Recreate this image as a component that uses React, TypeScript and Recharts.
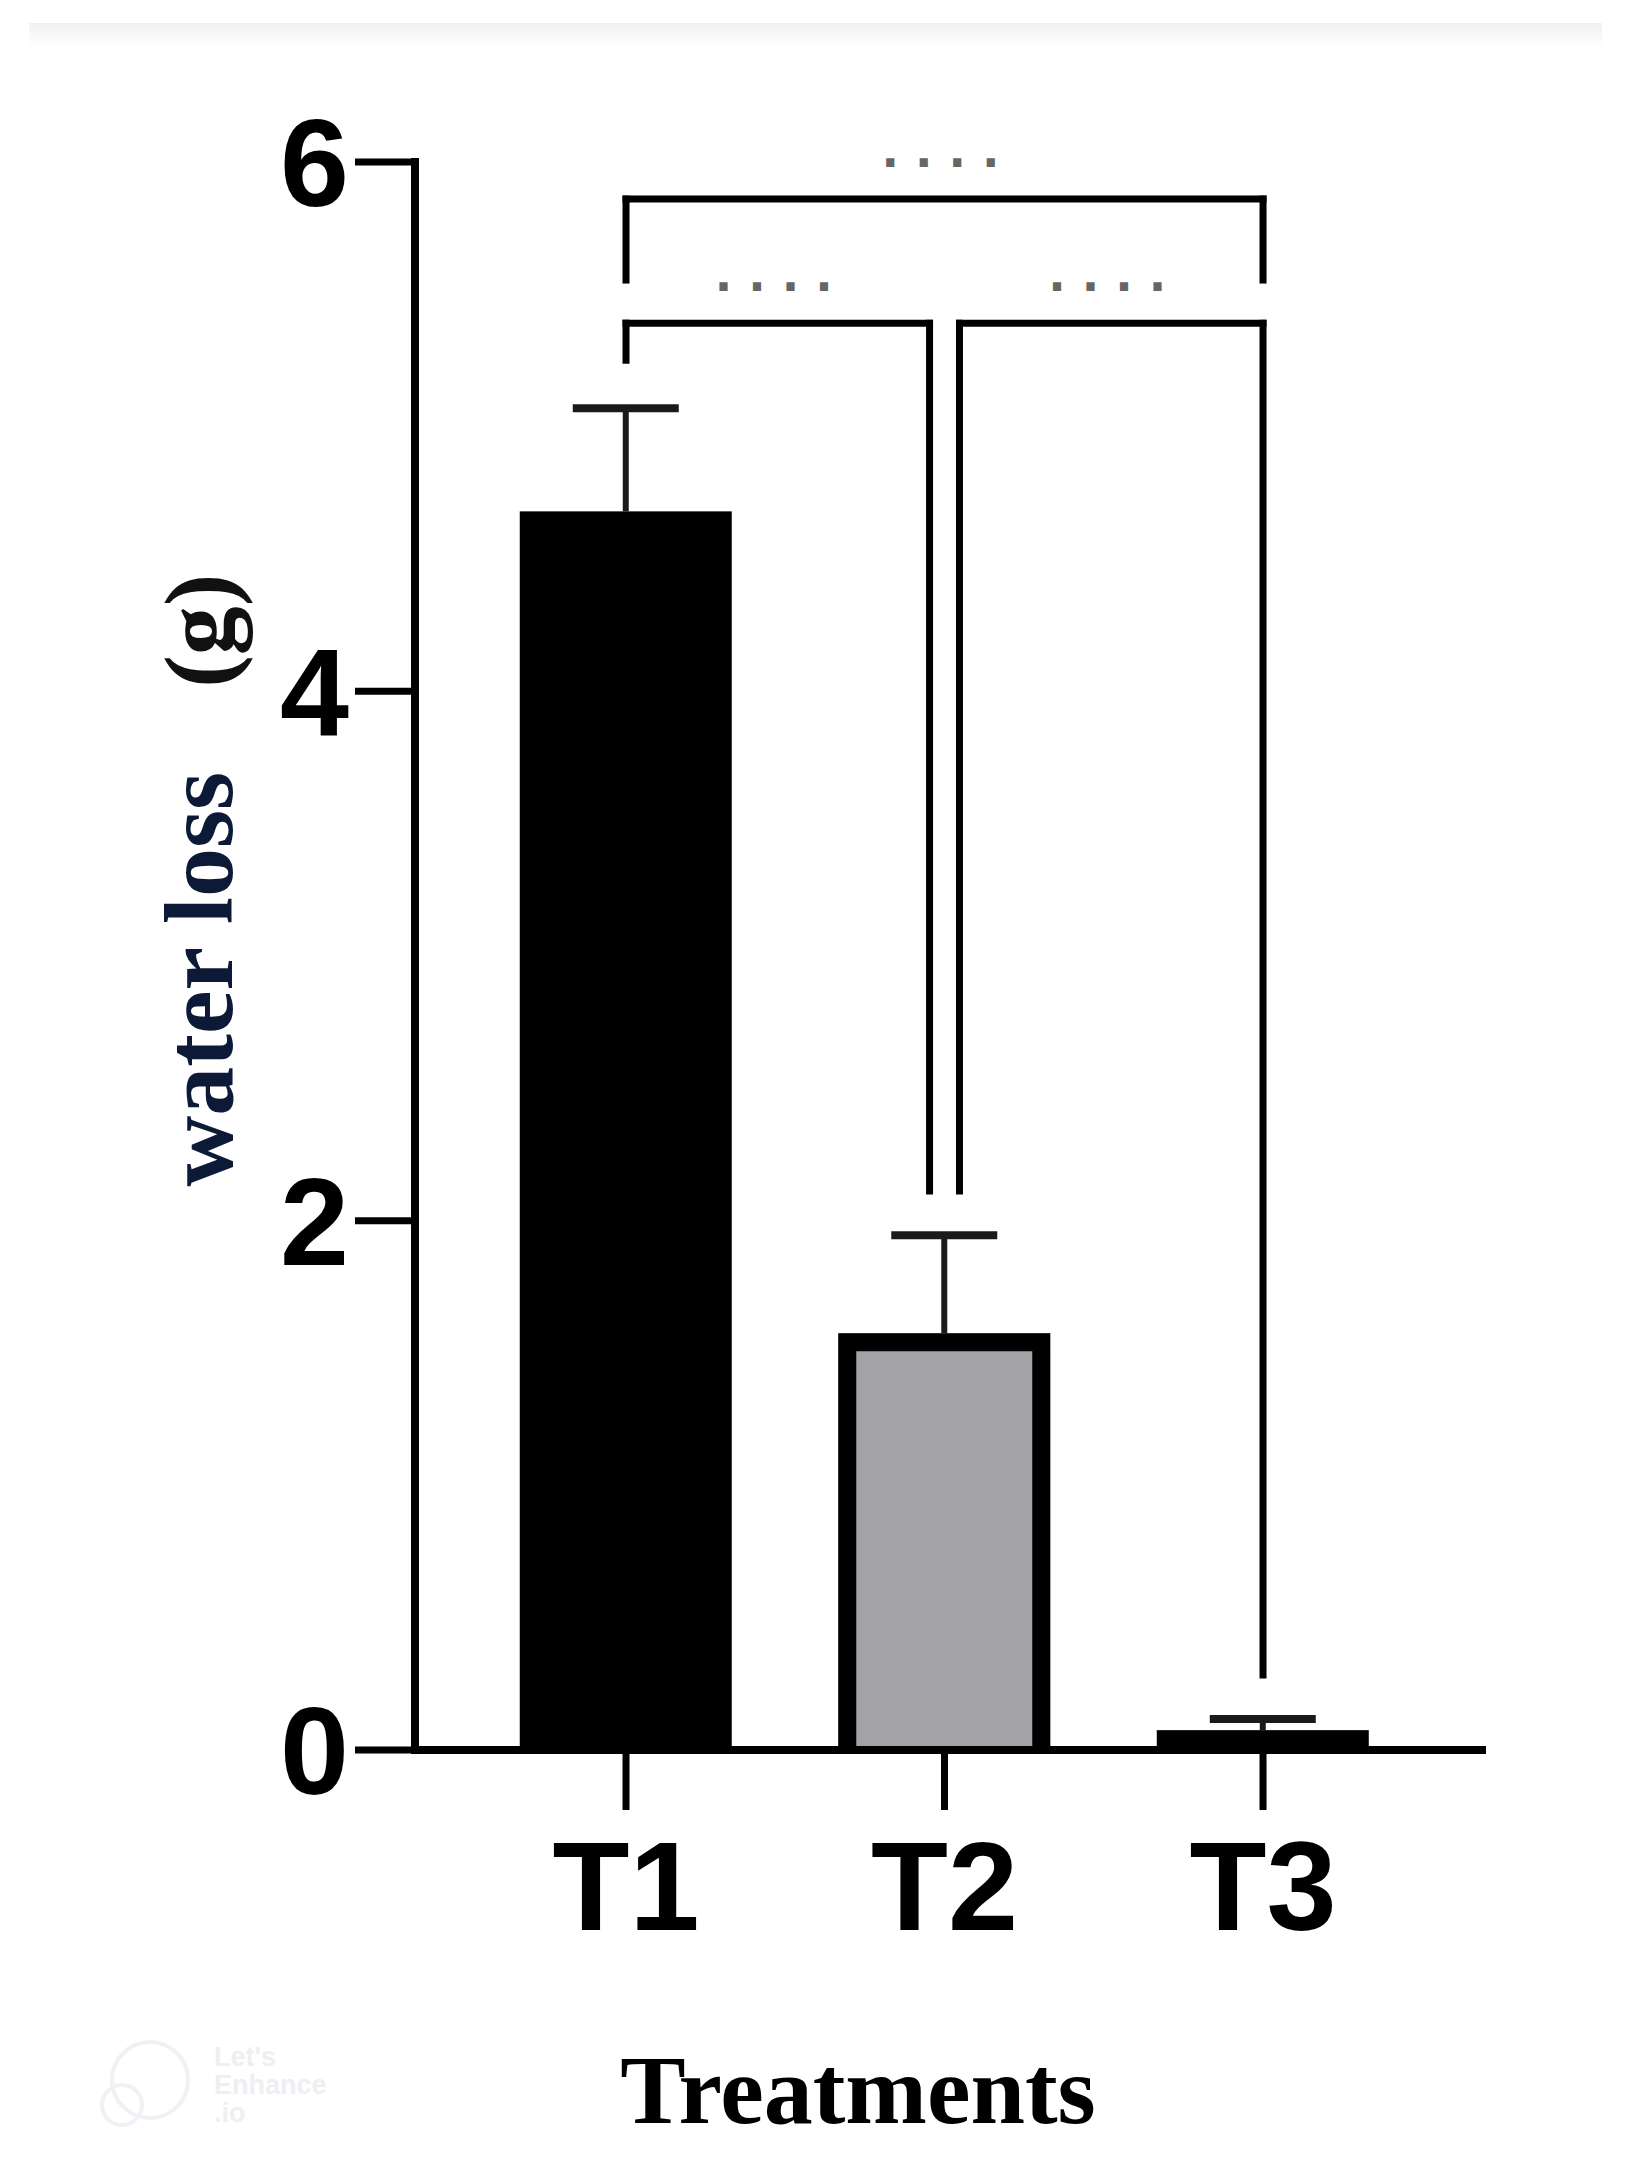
import React from "react";
import {
  Bar,
  BarChart,
  Cell,
  ReferenceLine,
  XAxis,
  YAxis,
} from "recharts";

// treatment positions on the numeric x axis and their labels
const TREATMENT_POS = [1, 2, 3];
const TREATMENT_LABELS = ["T1", "T2", "T3"];
// mean water loss (g) and upper SEM
const WATER_LOSS = [4.68, 1.575, 0.075];
const WATER_LOSS_ERR = [0.39, 0.37, 0.042];
const Y_TICKS = [0, 2, 4, 6];

// significance brackets: [x1, x2, y, left foot, right foot]
const BRACKETS: number[][] = [
  [1, 3, 5.86, 5.554, 5.554],
  [1, 1.953, 5.391, 5.251, 2.112],
  [2.047, 3, 5.391, 2.112, 0.283],
];

const BAR_FILLS = ["#000000", "#a3a3a7", "#000000"];
const BAR_OUTLINED = [false, true, false];

const data = TREATMENT_POS.map((x, i) => ({
  x,
  name: TREATMENT_LABELS[i],
  value: WATER_LOSS[i],
  err: WATER_LOSS_ERR[i],
}));

const SANS = "'Liberation Sans', Arial, sans-serif";
const SERIF = "'Liberation Serif', 'Times New Roman', serif";

function BarWithError(props: any) {
  const { x, y, width, height, payload, index, fill } = props;
  const perUnit = height / payload.value;
  const top = y - payload.err * perUnit;
  const cx = x + width / 2;
  const sw = 18;
  const h = sw / 2;
  return (
    <g>
      <line x1={cx} y1={y} x2={cx} y2={top} stroke="#1a1a1a" strokeWidth={6} />
      <line
        x1={cx - 53}
        y1={top}
        x2={cx + 53}
        y2={top}
        stroke="#1a1a1a"
        strokeWidth={8}
      />
      {BAR_OUTLINED[index] ? (
        <g>
          <rect x={x} y={y} width={width} height={height} fill={fill} />
          <path
            d={`M${x + h},${y + height} V${y + h} H${x + width - h} V${y + height}`}
            fill="none"
            stroke="#000"
            strokeWidth={sw}
          />
        </g>
      ) : (
        <rect x={x} y={y} width={width} height={height} fill={fill} />
      )}
    </g>
  );
}

function YTick(props: any) {
  const { x, y, payload } = props;
  return (
    <text
      x={x - 6}
      y={y + 44}
      textAnchor="end"
      fontFamily={SANS}
      fontWeight={700}
      fontSize={124}
      fill="#000"
    >
      {payload.value}
    </text>
  );
}

function XTick(props: any) {
  const { x, y, payload } = props;
  const i = TREATMENT_POS.indexOf(payload.value);
  return (
    <text
      x={x}
      y={y + 120}
      textAnchor="middle"
      fontFamily={SANS}
      fontWeight={700}
      fontSize={126}
      fill="#000"
    >
      {TREATMENT_LABELS[i]}
    </text>
  );
}

function StarsLabel(props: any) {
  const vb = props.viewBox || {};
  const cx = (vb.x ?? 0) + (vb.width ?? 0) / 2;
  const y = vb.y ?? 0;
  return (
    <text
      x={cx + 4}
      y={y - 20}
      textAnchor="middle"
      fontFamily="'DejaVu Sans', sans-serif"
      fontWeight={700}
      fontSize={46}
      letterSpacing={16}
      fill="#666"
    >
      ····
    </text>
  );
}

const lineStyle = {
  stroke: "#000",
  strokeWidth: 7,
  strokeLinecap: "square" as const,
};

export default function App() {
  return (
    <div
      style={{
        position: "absolute",
        left: 0,
        top: 0,
        width: 1636,
        height: 2173,
        background: "#fff",
        overflow: "hidden",
      }}
    >
      <div
        style={{
          position: "absolute",
          left: 29,
          top: 23,
          width: 1573,
          height: 24,
          background: "linear-gradient(#f1f1f1, #ffffff)",
        }}
      />
      <BarChart
        width={1636}
        height={2173}
        data={data}
        margin={{ top: 162, right: 154, left: 315, bottom: 363 }}
        style={{ position: "absolute", left: 0, top: 0 }}
      >
        <XAxis
          dataKey="x"
          type="number"
          domain={[0.3375, 3.6875]}
          allowDataOverflow
          ticks={TREATMENT_POS}
          interval={0}
          height={60}
          tickSize={60}
          tickMargin={0}
          axisLine={{ stroke: "#000", strokeWidth: 8, strokeLinecap: "square" }}
          tickLine={{ stroke: "#000", strokeWidth: 7 }}
          tick={<XTick />}
        />
        <YAxis
          type="number"
          domain={[0, 6]}
          ticks={Y_TICKS}
          interval={0}
          width={100}
          tickSize={60}
          tickMargin={0}
          axisLine={{ stroke: "#000", strokeWidth: 8, strokeLinecap: "square" }}
          tickLine={{ stroke: "#000", strokeWidth: 7 }}
          tick={<YTick />}
        />
        <Bar
          dataKey="value"
          barSize={212}
          isAnimationActive={false}
          shape={<BarWithError />}
        >
          {data.map((d, i) => (
            <Cell key={d.name} fill={BAR_FILLS[i]} />
          ))}
        </Bar>
        {BRACKETS.map(([x1, x2, y], i) => (
          <ReferenceLine
            key={`h${i}`}
            segment={[
              { x: x1, y },
              { x: x2, y },
            ]}
            {...lineStyle}
            label={<StarsLabel />}
          />
        ))}
        {BRACKETS.map(([x1, , y, l], i) => (
          <ReferenceLine
            key={`l${i}`}
            segment={[
              { x: x1, y },
              { x: x1, y: l },
            ]}
            {...lineStyle}
          />
        ))}
        {BRACKETS.map(([, x2, y, , r], i) => (
          <ReferenceLine
            key={`r${i}`}
            segment={[
              { x: x2, y },
              { x: x2, y: r },
            ]}
            {...lineStyle}
          />
        ))}
      </BarChart>
      <svg
        width={1636}
        height={2173}
        style={{ position: "absolute", left: 0, top: 0, pointerEvents: "none" }}
      >
        <text
          transform="rotate(-90, 232, 880)"
          x={232}
          y={880}
          textAnchor="middle"
          fontFamily={SERIF}
          fontWeight={700}
          fontSize={98}
        >
          <tspan fill="#0c1a38">water loss</tspan>
          <tspan dx={84} fill="#111">
            (g)
          </tspan>
        </text>
        <text
          x={858}
          y={2123}
          textAnchor="middle"
          fontFamily={SERIF}
          fontWeight={700}
          fontSize={98}
          fill="#000"
        >
          Treatments
        </text>
        <g opacity={0.9}>
          <circle cx={150} cy={2080} r={38} fill="none" stroke="#eef0f3" strokeWidth={4} />
          <circle cx={122} cy={2105} r={20} fill="none" stroke="#eef0f3" strokeWidth={4} />
          <text x={214} y={2066} fontFamily={SANS} fontWeight={700} fontSize={27} fill="#eceef2">
            Let's
          </text>
          <text x={214} y={2094} fontFamily={SANS} fontWeight={700} fontSize={27} fill="#eceef2">
            Enhance
          </text>
          <text x={214} y={2122} fontFamily={SANS} fontWeight={700} fontSize={27} fill="#eceef2">
            .io
          </text>
        </g>
      </svg>
    </div>
  );
}
